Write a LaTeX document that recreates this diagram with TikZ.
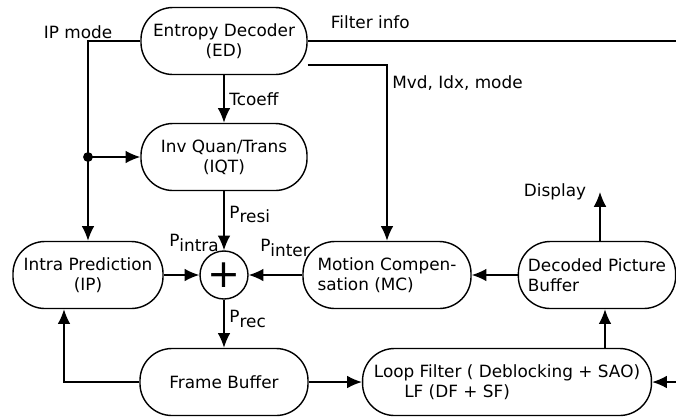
\documentclass[tikz,border=0pt]{standalone}
\usepackage{fontspec}
\setmainfont{DejaVu Sans}
\usetikzlibrary{arrows.meta}

\newcommand{\Psub}[1]{P\raisebox{-0.45ex}{#1}}

\begin{document}
\begin{tikzpicture}[
		x=0.025cm, y=-0.025cm,
		font=\fontsize{12}{14.2}\selectfont,
		line width=1pt,
		arrow/.style={-{Latex[length=10.5pt, width=9pt]}},
		block/.style={draw, rounded corners=0.8cm, minimum height=1.675cm, align=center, inner sep=2pt},
		sumnode/.style={draw, circle, minimum size=1.2cm, inner sep=0pt},
	]
		\useasboundingbox (0,0) rectangle (676,417);

		\node at (224,41) (ed) [block, minimum width=4.15cm] {Entropy Decoder\\(ED)};
		\node at (224,157) (iqt) [block, minimum width=4.15cm] {Inv Quan/Trans\\(IQT)};
		\node at (88,275) (ip) [block, minimum width=3.75cm] {Intra Prediction\\(IP)};
		\node at (224,275) (sum) [sumnode] {\fontsize{28}{28}\selectfont +};
		\node at (387,275) (mc) [block, minimum width=4.2cm, align=left] {Motion Compen-\\sation (MC)};
		\node at (597,275) (dpb) [block, minimum width=3.93cm, align=left] {Decoded Picture\\Buffer};
		\node at (224,382) (fb) [block, minimum width=4.2cm] {Frame Buffer};
		\node at (507,382) (lf) [block, minimum width=7.22cm, align=left] {Loop Filter ( Deblocking + SAO)\\\hspace*{1.8em}LF (DF + SF)};

		\coordinate (split) at (ip.north |- iqt.west);
		\coordinate (fiout) at (676,41);
		\coordinate (fiin) at (676,382);
		\coordinate (disp) at (600,192);

		\node at (78,32) (ipmode) {IP mode};
		\node at (194,243) (pintra) {\Psub{intra}};
		\node at (285,248) (pinter) {\Psub{inter}};

		\draw[arrow] (ed) -- node[right] (tcoeff) {Tcoeff} (iqt);
		\draw[arrow] (ed.west) -| (ip.north);
		\fill (split) circle (3.5pt);
		\draw[arrow] (split) -- (iqt);
		\draw (ed.east) -- node[above=5pt, pos=0.17] (finfo) {Filter info} (fiout);
		\draw[arrow] ([yshift=-0.6cm]ed.east) -| node[below right, yshift=-4pt, pos=0.5] (mvd) {Mvd, Idx, mode} (mc.north);
		\draw[arrow] (iqt) -- node[right, pos=0.4] (presi) {\Psub{resi}} (sum);
		\draw[arrow] (ip) -- (sum);
		\draw[arrow] (mc) -- (sum);
		\draw[arrow] (sum) -- node[right, pos=0.4] (prec) {\Psub{rec}} (fb);
		\draw[arrow] (dpb) -- (mc);
		\draw[arrow] (disp |- dpb.north) -- (disp) node[left=6pt] (display) {Display};
		\draw[arrow] ([xshift=0.2cm]dpb.south |- lf.north) -- ([xshift=0.2cm]dpb.south);
		\draw[arrow] (fb) -- (lf);
		\draw[arrow] (fb.west) -| ([xshift=-0.6cm]ip.south);
		\draw[arrow] (fiin) -- (lf.east);
	\end{tikzpicture}
\end{document}
